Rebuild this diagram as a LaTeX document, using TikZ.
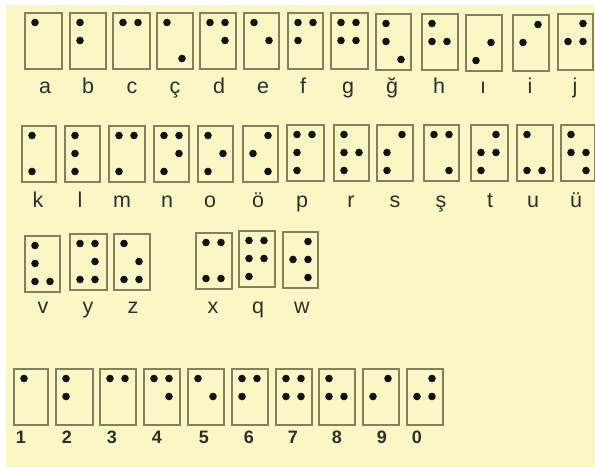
\documentclass[tikz,border=0pt]{standalone}
\usepackage{fontspec}
\setmainfont{Liberation Sans}
\definecolor{bgc}{HTML}{FAF7C4}
\definecolor{boxc}{HTML}{857F62}
\definecolor{dotc}{HTML}{121212}
\definecolor{txtc}{HTML}{2E2E2E}
\tikzset{
  cellbox/.style={draw=boxc, line width=1.5pt, rectangle, inner sep=0pt, minimum height=56pt, anchor=north west},
  lbl/.style={anchor=base, text=txtc, inner sep=0pt, font=\fontsize{21.5}{24}\selectfont},
  dlbl/.style={anchor=base, text=txtc, inner sep=0pt, font=\fontsize{18}{20}\selectfont\bfseries},
}
% #1 name, #2 left, #3 top, #4 width, #5 dots, #6 label x, #7 label baseline, #8 label, #9 label style
\newcommand\bcell[9]{%
  \node[cellbox, minimum width=#4pt] (#1) at (#2pt,-#3pt) {};
  \foreach \d in {#5}{%
    \pgfmathtruncatemacro\cc{(\d-1)/3}%
    \pgfmathtruncatemacro\rr{mod(\d-1,3)}%
    \fill[dotc] ([xshift={11pt+\cc*15pt}, yshift={-10.5pt-\rr*18pt}]#1.north west) circle (3.8pt);
  }
  \node[#9] (#1-l) at (#6pt,-#7pt) {#8};
}
\begin{document}
\begin{tikzpicture}
\useasboundingbox (0,0) rectangle (595pt,-467pt);
\fill[white] (0,0) rectangle (595pt,-467pt);
\fill[bgc] (6pt,-5pt) rectangle (595pt,-467pt);
% row 1
\bcell{a}{24}{12}{37}{1}{45}{93}{a}{lbl}
\bcell{b}{69}{12}{36}{1,2}{88}{93}{b}{lbl}
\bcell{c}{112}{12}{37}{1,4}{132}{93}{c}{lbl}
\bcell{cc}{156}{12}{36}{1,6}{175}{93}{ç}{lbl}
\bcell{d}{199}{12}{36}{1,4,5}{219}{93}{d}{lbl}
\bcell{e}{243}{12}{35}{1,5}{263}{93}{e}{lbl}
\bcell{f}{287}{12}{35}{1,2,4}{303}{93}{f}{lbl}
\bcell{g}{330}{12}{37}{1,2,4,5}{348}{93}{g}{lbl}
\bcell{gg}{375}{13}{35}{1,2,6}{392}{93}{ğ}{lbl}
\bcell{h}{421}{13}{36}{1,2,5}{439}{93}{h}{lbl}
\bcell{ii}{465}{14}{36}{3,5}{483}{93}{ı}{lbl}
\bcell{i}{512}{14}{36}{2,4}{530}{93}{i}{lbl}
\bcell{j}{557}{13}{35}{2,4,5}{575}{93}{j}{lbl}
% row 2
\bcell{k}{21}{125}{34}{1,3}{38}{207}{k}{lbl}
\bcell{l}{64}{125}{35}{1,2,3}{80}{207}{l}{lbl}
\bcell{m}{108}{125}{36}{1,3,4}{122}{207}{m}{lbl}
\bcell{n}{153}{125}{35}{1,3,4,5}{167}{207}{n}{lbl}
\bcell{o}{197}{125}{35}{1,3,5}{210}{207}{o}{lbl}
\bcell{oo}{242}{125}{35}{2,4,6}{258}{207}{ö}{lbl}
\bcell{p}{286}{124}{37}{1,2,3,4}{302}{207}{p}{lbl}
\bcell{r}{333}{124}{35}{1,2,3,5}{351}{207}{r}{lbl}
\bcell{s}{376}{124}{36}{2,3,4}{395}{207}{s}{lbl}
\bcell{ss}{423}{124}{35}{1,4,6}{441}{207}{ş}{lbl}
\bcell{t}{470}{124}{37}{2,3,4,5}{490}{207}{t}{lbl}
\bcell{u}{516}{124}{36}{1,3,6}{533}{207}{u}{lbl}
\bcell{uu}{560}{124}{34}{1,2,5,6}{576}{207}{ü}{lbl}
% row 3
\bcell{v}{24}{235}{35}{1,2,3,6}{43}{313}{v}{lbl}
\bcell{y}{69}{233}{37}{1,3,4,5,6}{88}{313}{y}{lbl}
\bcell{z}{113}{233}{36}{1,3,5,6}{133}{313}{z}{lbl}
\bcell{x}{195}{232}{36}{1,3,4,6}{213}{313}{x}{lbl}
\bcell{q}{238}{230}{36}{1,2,3,4,5}{258}{313}{q}{lbl}
\bcell{w}{282}{231}{35}{2,4,5,6}{302}{313}{w}{lbl}
% row 4
\bcell{n1}{13}{368}{34}{1}{21}{443}{1}{dlbl}
\bcell{n2}{55}{368}{37}{1,2}{67}{443}{2}{dlbl}
\bcell{n3}{99}{368}{36}{1,4}{112}{443}{3}{dlbl}
\bcell{n4}{143}{368}{36}{1,4,5}{157}{443}{4}{dlbl}
\bcell{n5}{187}{368}{36}{1,5}{204}{443}{5}{dlbl}
\bcell{n6}{231}{368}{36}{1,2,4}{249}{443}{6}{dlbl}
\bcell{n7}{275}{368}{36}{1,2,4,5}{293}{443}{7}{dlbl}
\bcell{n8}{318}{368}{36}{1,2,5}{337}{443}{8}{dlbl}
\bcell{n9}{362}{368}{36}{2,4}{382}{443}{9}{dlbl}
\bcell{n0}{406}{368}{36}{2,4,5}{417}{443}{0}{dlbl}
\end{tikzpicture}
\end{document}
